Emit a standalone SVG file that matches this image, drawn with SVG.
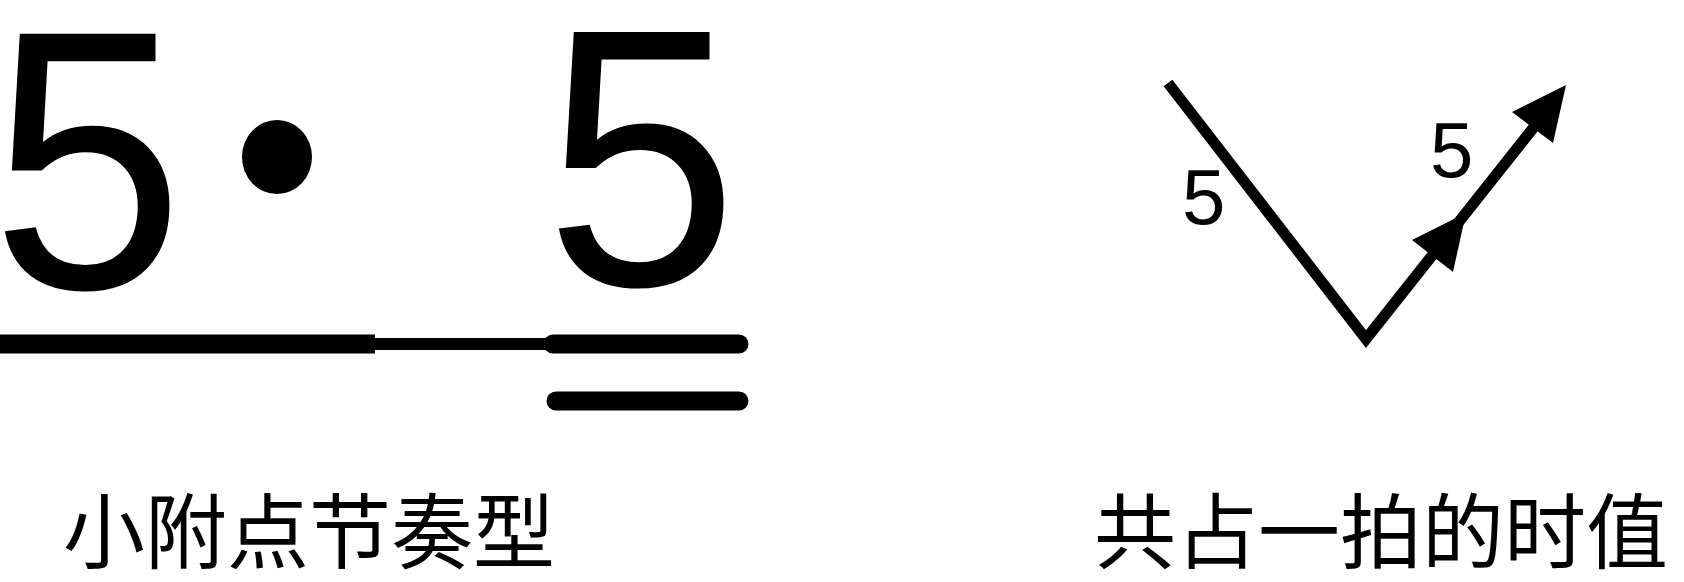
<svg xmlns="http://www.w3.org/2000/svg" width="1684" height="582" viewBox="0 0 1684 582">
<style>
.big{font-family:"Liberation Sans",Arial,sans-serif;font-size:347px;fill:#000}
.small{font-family:"Liberation Sans",Arial,sans-serif;font-size:78px;fill:#000}
.cap{font-family:"Noto Sans CJK SC","Noto Sans",sans-serif;font-size:82px;fill:#000}
.bar{stroke:#000;fill:none}
.ln{stroke:#000;stroke-width:11;fill:none;stroke-linejoin:miter}
.head{fill:#000}
</style>
<rect width="1684" height="582" fill="#fff"/>
<g id="rhythm">
<text class="big" x="-9" y="0" transform="matrix(1,0,0,1.065,0,288)">5</text>
<ellipse cx="277" cy="157" rx="35" ry="37" fill="#000"/>
<text class="big" x="545" y="0" transform="matrix(1,0,0,1.06,0,285)">5</text>
<line class="bar" x1="0" y1="344" x2="375" y2="344" stroke-width="19"/>
<line class="bar" x1="370" y1="344" x2="560" y2="344" stroke-width="12"/>
<line class="bar" x1="553" y1="344" x2="739" y2="344" stroke-width="19" stroke-linecap="round"/>
<line class="bar" x1="556" y1="401" x2="739" y2="401" stroke-width="19" stroke-linecap="round"/>
</g>
<g id="caption-left">
<text class="cap" x="63" y="562">小附点节奏型</text>
</g>
<g id="connectors">
<polyline class="ln" points="1168,83 1366,339 1534,127"/>
<polygon class="head" points="1466,213 1453,272 1412,240"/>
<polygon class="head" points="1566,85 1553,143 1512,112"/>
</g>
<g id="labels">
<text class="small" x="1182" y="224">5</text>
<text class="small" x="1430" y="177">5</text>
</g>
<g id="caption-right">
<text class="cap" x="1094" y="562">共占一拍的时值</text>
</g>
</svg>
